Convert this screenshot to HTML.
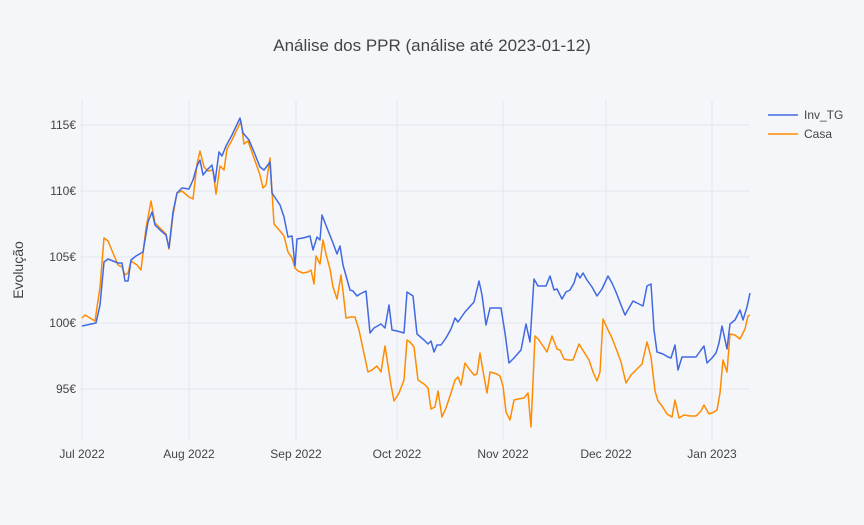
<!DOCTYPE html>
<html><head><meta charset="utf-8"><style>
html,body{margin:0;padding:0;background:#f5f6fa;}
svg{display:block;font-family:"Liberation Sans",sans-serif;}
</style></head><body>
<svg width="864" height="525" viewBox="0 0 864 525">
<rect width="864" height="525" fill="#f5f6fa"/>
<text x="432" y="51" text-anchor="middle" font-size="17" fill="#444">Análise dos PPR (análise até 2023-01-12)</text>
<g stroke="#e3e6ee" stroke-width="1">
<line x1="80" x2="750" y1="125" y2="125"/><line x1="80" x2="750" y1="191" y2="191"/>
<line x1="80" x2="750" y1="257" y2="257"/><line x1="80" x2="750" y1="323" y2="323"/>
<line x1="80" x2="750" y1="389" y2="389"/>
<line x1="82" x2="82" y1="100" y2="440"/><line x1="189" x2="189" y1="100" y2="440"/>
<line x1="296" x2="296" y1="100" y2="440"/><line x1="397" x2="397" y1="100" y2="440"/>
<line x1="503" x2="503" y1="100" y2="440"/><line x1="606" x2="606" y1="100" y2="440"/>
<line x1="712" x2="712" y1="100" y2="440"/>
</g>
<g font-size="12" fill="#444" text-anchor="end">
<text x="76" y="129">115€</text><text x="76" y="195">110€</text><text x="76" y="261">105€</text><text x="76" y="327">100€</text><text x="76" y="393">95€</text>
</g>
<g font-size="12" fill="#444" text-anchor="middle">
<text x="82" y="458">Jul 2022</text><text x="189" y="458">Aug 2022</text><text x="296" y="458">Sep 2022</text><text x="397" y="458">Oct 2022</text><text x="503" y="458">Nov 2022</text><text x="606" y="458">Dec 2022</text><text x="712" y="458">Jan 2023</text>
</g>
<text transform="translate(23,270) rotate(-90)" text-anchor="middle" font-size="14" fill="#444">Evolução</text>
<polyline fill="none" stroke="#ff8c00" stroke-width="1.5" stroke-linejoin="round" points="82,318 85,315 95,321 100,287 104,238 108,241 113,253 118,265 122,267 125,275 128,273 131,261 137,265 141,270 146,228 151,201 155,223 160,228 166,234 169,249 173,215 177,193 182,191 189,197 193,199 197,164 200,151 204,167 208,171 213,170 216,194 220,166 224,170 227,149 232,140 241,121 244,144 248,141 254,158 260,175 263,188 266,185 270,158 274,224 280,231 284,236 288,252 292,258 295,268 298,271 303,273 308,272 311,270 314,284 316,256 320,264 323,240 326,254 330,269 333,287 337,299 341,275 344,300 346,318 351,317 355,317 359,330 363,349 368,372 372,370 377,366 381,372 385,346 389,372 391,385 394,401 399,393 404,380 407,340 410,342 414,347 418,380 424,384 428,388 431,409 435,407 438,391 442,417 446,408 451,393 455,380 458,377 461,385 465,363 470,370 474,375 477,374 480,353 483,371 487,393 490,372 497,374 500,376 503,386 506,412 510,420 514,400 518,399 524,398 528,393 531,427 535,336 539,340 547,352 552,336 557,349 560,350 564,359 568,360 573,360 579,344 584,352 589,360 593,372 597,381 600,372 603,319 608,330 612,338 617,351 621,362 626,383 631,375 637,369 642,364 647,342 651,357 655,391 658,401 662,406 667,414 672,417 675,400 679,418 684,415 690,416 696,416 701,411 704,405 709,414 714,412 717,410 720,393 723,360 727,372 730,334 735,335 740,339 745,329 748,316 750,315"/>
<polyline fill="none" stroke="#4169e1" stroke-width="1.5" stroke-linejoin="round" points="82,326 96,323 100,305 104,262 108,259 113,261 118,263 122,263 125,281 128,281 131,260 136,256 143,252 148,222 152,212 155,225 160,230 166,235 169,248 173,212 177,193 182,188 189,189 193,180 197,166 200,160 203,175 207,170 212,165 215,182 219,152 222,156 226,146 232,135 240,118 243,133 249,140 254,152 260,167 264,170 270,162 272,193 280,205 284,217 288,237 292,236 295,266 297,239 303,238 310,236 313,250 317,237 320,240 322,215 327,228 333,243 337,254 340,246 343,265 350,290 353,291 357,296 360,294 366,291 370,333 374,328 381,324 385,328 389,305 392,330 397,331 404,333 407,292 413,296 417,334 424,340 428,344 431,341 434,352 437,345 441,345 446,338 451,329 455,318 458,322 465,312 474,302 479,281 482,295 486,325 490,308 496,308 501,308 505,333 509,363 514,358 521,350 526,324 530,342 534,279 538,286 546,286 550,276 554,290 557,289 562,299 566,292 570,290 574,283 577,273 580,278 583,273 587,280 592,287 597,296 602,289 608,276 612,283 616,292 621,305 625,315 629,308 633,301 637,303 643,306 647,286 651,284 654,330 657,352 663,354 668,357 671,358 675,345 678,370 682,357 690,357 696,357 701,350 704,346 707,363 712,358 716,353 719,343 722,326 727,349 730,324 735,320 740,310 743,320 747,307 750,293"/>
<line x1="768" x2="798" y1="115" y2="115" stroke="#4169e1" stroke-width="1.5"/>
<text x="804" y="119" font-size="12" fill="#444">Inv_TG</text>
<line x1="768" x2="798" y1="134" y2="134" stroke="#ff8c00" stroke-width="1.5"/>
<text x="804" y="138" font-size="12" fill="#444">Casa</text>
</svg>
</body></html>
